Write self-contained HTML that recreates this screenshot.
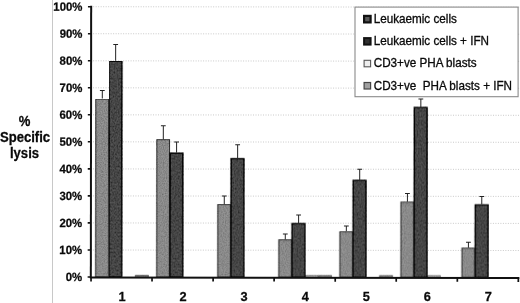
<!DOCTYPE html>
<html><head><meta charset="utf-8"><title>Specific lysis chart</title>
<style>
html,body{margin:0;padding:0;background:#fff;}
body{width:520px;height:303px;overflow:hidden;}
svg{display:block;font-family:"Liberation Sans",sans-serif;}
.yl{font-size:11.4px;font-weight:bold;fill:#0a0a0a;text-anchor:end;stroke:#0a0a0a;stroke-width:0.25px;}
.xl{font-size:12.8px;font-weight:bold;fill:#0a0a0a;text-anchor:middle;stroke:#0a0a0a;stroke-width:0.25px;}
.ti{font-size:13.1px;font-weight:bold;fill:#0a0a0a;text-anchor:middle;stroke:#0a0a0a;stroke-width:0.25px;}
.lg{font-size:11.7px;fill:#0a0a0a;stroke:#0a0a0a;stroke-width:0.3px;}
</style></head><body>
<svg width="520" height="303" viewBox="0 0 520 303">
<defs>
<filter id="nz" x="0" y="0" width="100%" height="100%">
<feTurbulence type="fractalNoise" baseFrequency="0.9" numOctaves="2" seed="3" result="n"/>
<feColorMatrix in="n" type="matrix" values="0 0 0 0 0  0 0 0 0 0  0 0 0 0 0  0.9 0 0 0 -0.28" result="a"/>
<feComposite in="a" in2="SourceGraphic" operator="in" result="m"/>
<feMerge><feMergeNode in="SourceGraphic"/><feMergeNode in="m"/></feMerge>
</filter>
<filter id="nd" x="0" y="0" width="100%" height="100%">
<feTurbulence type="fractalNoise" baseFrequency="0.7 0.5" numOctaves="2" seed="11" result="n"/>
<feColorMatrix in="n" type="matrix" values="0 0 0 0 0  0 0 0 0 0  0 0 0 0 0  1.3 0 0 0 -0.3" result="a"/>
<feComposite in="a" in2="SourceGraphic" operator="in" result="m"/>
<feMerge><feMergeNode in="SourceGraphic"/><feMergeNode in="m"/></feMerge>
</filter>
</defs>
<rect width="520" height="303" fill="#fff"/>
<line x1="52.5" y1="0" x2="52.5" y2="303" stroke="#c8c8c8" stroke-width="1"/>

<g transform="rotate(0.07 91 140)">
<line x1="93" y1="250.0" x2="519" y2="250.0" stroke="#c4c4c4" stroke-width="0.9" stroke-dasharray="1 1.5"/>
<line x1="93" y1="222.9" x2="519" y2="222.9" stroke="#c4c4c4" stroke-width="0.9" stroke-dasharray="1 1.5"/>
<line x1="93" y1="195.9" x2="519" y2="195.9" stroke="#c4c4c4" stroke-width="0.9" stroke-dasharray="1 1.5"/>
<line x1="93" y1="168.9" x2="519" y2="168.9" stroke="#c4c4c4" stroke-width="0.9" stroke-dasharray="1 1.5"/>
<line x1="93" y1="141.8" x2="519" y2="141.8" stroke="#c4c4c4" stroke-width="0.9" stroke-dasharray="1 1.5"/>
<line x1="93" y1="114.8" x2="519" y2="114.8" stroke="#c4c4c4" stroke-width="0.9" stroke-dasharray="1 1.5"/>
<line x1="93" y1="87.8" x2="519" y2="87.8" stroke="#c4c4c4" stroke-width="0.9" stroke-dasharray="1 1.5"/>
<line x1="93" y1="60.8" x2="519" y2="60.8" stroke="#c4c4c4" stroke-width="0.9" stroke-dasharray="1 1.5"/>
<line x1="93" y1="33.7" x2="519" y2="33.7" stroke="#c4c4c4" stroke-width="0.9" stroke-dasharray="1 1.5"/>
<line x1="93" y1="6.7" x2="519" y2="6.7" stroke="#c4c4c4" stroke-width="0.9" stroke-dasharray="1 1.5"/>
<g filter="url(#nz)">
<rect x="95.80" y="99.10" width="12.70" height="177.90" fill="#969696" stroke="#303030" stroke-width="1"/>
<rect x="135.70" y="275.34" width="12.70" height="1.66" fill="#a8a8a8" stroke="#666" stroke-width="1"/>
<rect x="156.85" y="139.65" width="12.70" height="137.35" fill="#969696" stroke="#303030" stroke-width="1"/>
<rect x="217.90" y="204.52" width="12.70" height="72.48" fill="#969696" stroke="#303030" stroke-width="1"/>
<rect x="278.95" y="239.66" width="12.70" height="37.34" fill="#969696" stroke="#303030" stroke-width="1"/>
<rect x="305.55" y="275.34" width="12.70" height="1.66" fill="#efefef" stroke="#777" stroke-width="1"/>
<rect x="318.85" y="275.34" width="12.70" height="1.66" fill="#a8a8a8" stroke="#666" stroke-width="1"/>
<rect x="340.00" y="231.55" width="12.70" height="45.45" fill="#969696" stroke="#303030" stroke-width="1"/>
<rect x="379.90" y="275.34" width="12.70" height="1.66" fill="#a8a8a8" stroke="#666" stroke-width="1"/>
<rect x="401.05" y="201.82" width="12.70" height="75.18" fill="#969696" stroke="#303030" stroke-width="1"/>
<rect x="427.65" y="275.34" width="12.70" height="1.66" fill="#efefef" stroke="#777" stroke-width="1"/>
<rect x="462.10" y="247.77" width="12.70" height="29.23" fill="#969696" stroke="#303030" stroke-width="1"/>
</g>
<g filter="url(#nd)">
<rect x="109.10" y="61.26" width="12.70" height="215.74" fill="#565656" stroke="#080808" stroke-width="1.4"/>
<rect x="170.15" y="153.16" width="12.70" height="123.84" fill="#565656" stroke="#080808" stroke-width="1.4"/>
<rect x="231.20" y="158.57" width="12.70" height="118.43" fill="#565656" stroke="#080808" stroke-width="1.4"/>
<rect x="292.25" y="223.44" width="12.70" height="53.56" fill="#565656" stroke="#080808" stroke-width="1.4"/>
<rect x="353.30" y="180.19" width="12.70" height="96.81" fill="#565656" stroke="#080808" stroke-width="1.4"/>
<rect x="414.35" y="107.21" width="12.70" height="169.79" fill="#565656" stroke="#080808" stroke-width="1.4"/>
<rect x="475.40" y="204.52" width="12.70" height="72.48" fill="#565656" stroke="#080808" stroke-width="1.4"/>
</g>
<path d="M102.25 98.60V90.49M99.85 90.49H104.65" stroke="#222" stroke-width="1" fill="none"/>
<path d="M115.55 60.76V44.54M113.15 44.54H117.95" stroke="#222" stroke-width="1" fill="none"/>
<path d="M163.30 139.15V125.63M160.90 125.63H165.70" stroke="#222" stroke-width="1" fill="none"/>
<path d="M176.60 152.66V141.85M174.20 141.85H179.00" stroke="#222" stroke-width="1" fill="none"/>
<path d="M224.35 204.02V195.91M221.95 195.91H226.75" stroke="#222" stroke-width="1" fill="none"/>
<path d="M237.65 158.07V144.55M235.25 144.55H240.05" stroke="#222" stroke-width="1" fill="none"/>
<path d="M285.40 239.16V233.75M283.00 233.75H287.80" stroke="#222" stroke-width="1" fill="none"/>
<path d="M298.70 222.94V214.83M296.30 214.83H301.10" stroke="#222" stroke-width="1" fill="none"/>
<path d="M346.45 231.05V225.64M344.05 225.64H348.85" stroke="#222" stroke-width="1" fill="none"/>
<path d="M359.75 179.69V168.88M357.35 168.88H362.15" stroke="#222" stroke-width="1" fill="none"/>
<path d="M407.50 201.32V193.21M405.10 193.21H409.90" stroke="#222" stroke-width="1" fill="none"/>
<path d="M420.80 106.71V98.60M418.40 98.60H423.20" stroke="#222" stroke-width="1" fill="none"/>
<path d="M468.55 247.27V241.86M466.15 241.86H470.95" stroke="#222" stroke-width="1" fill="none"/>
<path d="M481.85 204.02V195.91M479.45 195.91H484.25" stroke="#222" stroke-width="1" fill="none"/>
<line x1="91" y1="5.7" x2="91" y2="278.0" stroke="#111" stroke-width="2"/>
<line x1="90" y1="277.5" x2="519.5" y2="277.5" stroke="#111" stroke-width="2"/>
<line x1="87.8" y1="277.0" x2="91" y2="277.0" stroke="#111" stroke-width="1.6"/>
<text class="yl" transform="translate(82.3 281.1) scale(1 1.05)">0%</text>
<line x1="87.8" y1="250.0" x2="91" y2="250.0" stroke="#111" stroke-width="1.6"/>
<text class="yl" transform="translate(82.3 254.1) scale(1 1.05)">10%</text>
<line x1="87.8" y1="222.9" x2="91" y2="222.9" stroke="#111" stroke-width="1.6"/>
<text class="yl" transform="translate(82.3 227.0) scale(1 1.05)">20%</text>
<line x1="87.8" y1="195.9" x2="91" y2="195.9" stroke="#111" stroke-width="1.6"/>
<text class="yl" transform="translate(82.3 200.0) scale(1 1.05)">30%</text>
<line x1="87.8" y1="168.9" x2="91" y2="168.9" stroke="#111" stroke-width="1.6"/>
<text class="yl" transform="translate(82.3 173.0) scale(1 1.05)">40%</text>
<line x1="87.8" y1="141.8" x2="91" y2="141.8" stroke="#111" stroke-width="1.6"/>
<text class="yl" transform="translate(82.3 145.9) scale(1 1.05)">50%</text>
<line x1="87.8" y1="114.8" x2="91" y2="114.8" stroke="#111" stroke-width="1.6"/>
<text class="yl" transform="translate(82.3 118.9) scale(1 1.05)">60%</text>
<line x1="87.8" y1="87.8" x2="91" y2="87.8" stroke="#111" stroke-width="1.6"/>
<text class="yl" transform="translate(82.3 91.9) scale(1 1.05)">70%</text>
<line x1="87.8" y1="60.8" x2="91" y2="60.8" stroke="#111" stroke-width="1.6"/>
<text class="yl" transform="translate(82.3 64.9) scale(1 1.05)">80%</text>
<line x1="87.8" y1="33.7" x2="91" y2="33.7" stroke="#111" stroke-width="1.6"/>
<text class="yl" transform="translate(82.3 37.8) scale(1 1.05)">90%</text>
<line x1="87.8" y1="6.7" x2="91" y2="6.7" stroke="#111" stroke-width="1.6"/>
<text class="yl" transform="translate(82.3 10.8) scale(1 1.05)">100%</text>
<line x1="91.2" y1="277.0" x2="91.2" y2="281.4" stroke="#111" stroke-width="1.7"/>
<line x1="152.2" y1="277.0" x2="152.2" y2="281.4" stroke="#111" stroke-width="1.7"/>
<line x1="213.3" y1="277.0" x2="213.3" y2="281.4" stroke="#111" stroke-width="1.7"/>
<line x1="274.3" y1="277.0" x2="274.3" y2="281.4" stroke="#111" stroke-width="1.7"/>
<line x1="335.4" y1="277.0" x2="335.4" y2="281.4" stroke="#111" stroke-width="1.7"/>
<line x1="396.4" y1="277.0" x2="396.4" y2="281.4" stroke="#111" stroke-width="1.7"/>
<line x1="457.5" y1="277.0" x2="457.5" y2="281.4" stroke="#111" stroke-width="1.7"/>
<line x1="518.5" y1="277.0" x2="518.5" y2="281.4" stroke="#111" stroke-width="1.7"/>
</g>
<text class="xl" transform="translate(122.0 301.3) scale(1 1.05)">1</text>
<text class="xl" transform="translate(183.1 301.3) scale(1 1.05)">2</text>
<text class="xl" transform="translate(244.1 301.3) scale(1 1.05)">3</text>
<text class="xl" transform="translate(305.2 301.3) scale(1 1.05)">4</text>
<text class="xl" transform="translate(366.2 301.3) scale(1 1.05)">5</text>
<text class="xl" transform="translate(427.3 301.3) scale(1 1.05)">6</text>
<text class="xl" transform="translate(488.3 301.3) scale(1 1.05)">7</text>
<text class="ti" transform="translate(24.5 126.1) scale(1 1.06)">%</text>
<text class="ti" transform="translate(25 141.8) scale(1 1.06)">Specific</text>
<text class="ti" transform="translate(24.5 157.8) scale(1 1.06)">lysis</text>
<rect x="355.0" y="7.1" width="163.1" height="89.6" fill="#fff" stroke="#8a8a8a" stroke-width="1.1"/>
<rect x="364.1" y="15.9" width="6.5" height="6.5" fill="#585858" stroke="#111" stroke-width="2.2"/>
<text class="lg" transform="translate(373.7 22.9) scale(1 1.04)" xml:space="preserve">Leukaemic cells</text>
<rect x="364.1" y="38.1" width="6.5" height="6.5" fill="#303030" stroke="#111" stroke-width="2.0"/>
<text class="lg" transform="translate(373.7 45.1) scale(1 1.04)" xml:space="preserve">Leukaemic cells + IFN</text>
<rect x="364.1" y="60.3" width="6.5" height="6.5" fill="#eeeeee" stroke="#555" stroke-width="1.1"/>
<text class="lg" transform="translate(373.7 67.3) scale(1 1.04)" xml:space="preserve">CD3+ve PHA blasts</text>
<rect x="364.1" y="82.5" width="6.5" height="6.5" fill="#a0a0a0" stroke="#444" stroke-width="1.2"/>
<text class="lg" transform="translate(373.7 89.5) scale(1 1.04)" xml:space="preserve">CD3+ve  PHA blasts + IFN</text>
</svg></body></html>
